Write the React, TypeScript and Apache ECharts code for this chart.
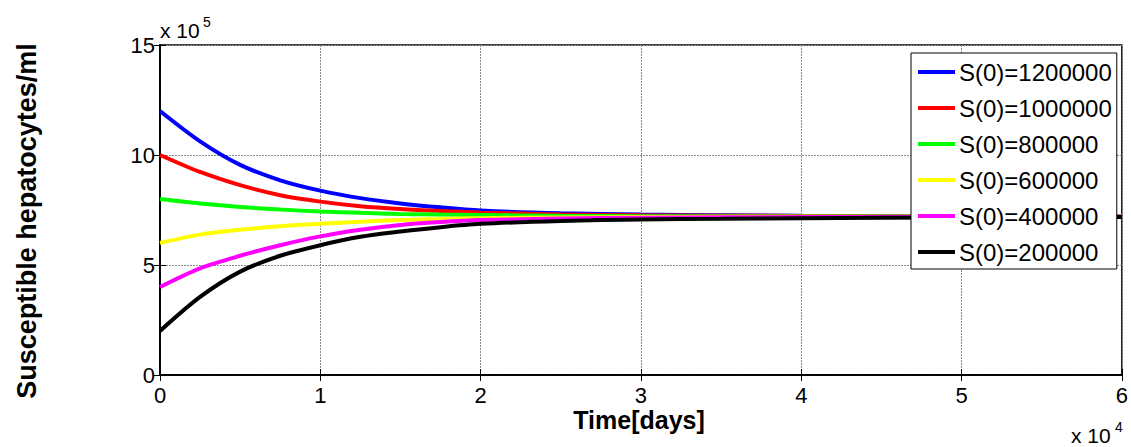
import React, { useEffect, useRef } from "react";
import * as echarts from "echarts";

// Time in units of 10^4 days, cell counts in units of 10^5 per ml
const times = [0, 0.25, 0.5, 0.75, 1, 1.25, 1.5, 1.75, 2, 2.5, 3, 3.5, 4, 5, 6];

const s1200000 = [12.0, 10.62, 9.55, 8.85, 8.38, 8.04, 7.8, 7.62, 7.48, 7.35, 7.29, 7.26, 7.24, 7.22, 7.21];
const s1000000 = [10.0, 9.23, 8.63, 8.17, 7.88, 7.67, 7.54, 7.45, 7.38, 7.3, 7.26, 7.24, 7.23, 7.21, 7.21];
const s800000 = [8.0, 7.8, 7.64, 7.52, 7.43, 7.37, 7.32, 7.29, 7.27, 7.24, 7.22, 7.21, 7.21, 7.2, 7.2];
const s600000 = [6.0, 6.38, 6.6, 6.76, 6.87, 6.97, 7.04, 7.09, 7.13, 7.16, 7.18, 7.19, 7.19, 7.2, 7.2];
const s400000 = [4.0, 4.85, 5.42, 5.9, 6.3, 6.6, 6.82, 6.95, 7.04, 7.11, 7.15, 7.17, 7.18, 7.19, 7.2];
const s200000 = [2.0, 3.55, 4.7, 5.42, 5.9, 6.28, 6.52, 6.72, 6.87, 7.0, 7.07, 7.1, 7.13, 7.16, 7.18];

const seriesNames = [
  "S(0)=1200000",
  "S(0)=1000000",
  "S(0)=800000",
  "S(0)=600000",
  "S(0)=400000",
  "S(0)=200000",
];
const seriesValues = [s1200000, s1000000, s800000, s600000, s400000, s200000];
const seriesColors = ["#0000ff", "#ff0000", "#00ff00", "#ffff00", "#ff00ff", "#000000"];

const xTicks = [0, 1, 2, 3, 4, 5, 6];
const yTicks = [0, 5, 10, 15];

const FONT = "'Liberation Sans', Arial, sans-serif";

export default function App() {
  const ref = useRef<HTMLDivElement>(null);

  useEffect(() => {
    document.body.style.margin = "0";
    if (!ref.current) return;
    const chart = echarts.init(ref.current, null, { renderer: "svg" });

    const gridLine = { show: true, lineStyle: { color: "#8a8a8a", width: 1, type: [2, 1] as any } };
    const tickStyle = { show: true, inside: true, length: 6, lineStyle: { color: "#000", width: 1 } };

    chart.setOption({
      animation: false,
      backgroundColor: "#fff",
      grid: {
        left: 160,
        top: 45,
        right: 4,
        bottom: 72,
        show: true,
        borderColor: "#000",
        borderWidth: 1.5,
        backgroundColor: "transparent",
      },
      xAxis: [
        {
          type: "value",
          min: xTicks[0],
          max: xTicks[xTicks.length - 1],
          interval: 1,
          axisLine: { show: true, lineStyle: { color: "#000", width: 1.5 } },
          axisTick: tickStyle,
          splitLine: gridLine,
          axisLabel: { color: "#000", fontSize: 22, fontFamily: FONT, margin: 9 },
        },
        {
          type: "value",
          position: "top",
          min: xTicks[0],
          max: xTicks[xTicks.length - 1],
          interval: 1,
          axisLine: { show: true, lineStyle: { color: "#000", width: 1.5 } },
          axisTick: tickStyle,
          splitLine: { show: false },
          axisLabel: { show: false },
        },
      ],
      yAxis: [
        {
          type: "value",
          min: yTicks[0],
          max: yTicks[yTicks.length - 1],
          interval: 5,
          axisLine: { show: true, lineStyle: { color: "#000", width: 1.5 } },
          axisTick: tickStyle,
          splitLine: gridLine,
          axisLabel: { color: "#000", fontSize: 22, fontFamily: FONT, margin: 5 },
        },
        {
          type: "value",
          position: "right",
          min: yTicks[0],
          max: yTicks[yTicks.length - 1],
          interval: 5,
          axisLine: { show: true, lineStyle: { color: "#000", width: 1.5 } },
          axisTick: tickStyle,
          splitLine: { show: false },
          axisLabel: { show: false },
        },
      ],
      legend: {
        orient: "vertical",
        left: 911,
        top: 53,
        z: 20,
        data: seriesNames,
        icon: "rect",
        backgroundColor: "#fff",
        borderColor: "#000",
        borderWidth: 1,
        borderRadius: 0,
        padding: [6, 5, 4, 7],
        itemWidth: 37,
        itemHeight: 4,
        itemGap: 10,
        textStyle: { color: "#000", fontSize: 24, fontFamily: FONT, lineHeight: 26, padding: [0, 0, 0, -1] },
      },
      graphic: [
        {
          type: "text",
          x: 27,
          y: 221,
          rotation: Math.PI / 2,
          style: {
            text: "Susceptible hepatocytes/ml",
            font: `bold 27px ${FONT}`,
            fill: "#000",
            textAlign: "center",
            textVerticalAlign: "middle",
          },
        },
        {
          type: "text",
          x: 639,
          y: 420,
          style: {
            text: "Time[days]",
            font: `bold 25px ${FONT}`,
            fill: "#000",
            textAlign: "center",
            textVerticalAlign: "middle",
          },
        },
        {
          type: "text",
          x: 160,
          y: 41,
          style: { text: "x 10", font: `21px ${FONT}`, fill: "#000", textVerticalAlign: "bottom" },
        },
        {
          type: "text",
          x: 203,
          y: 29,
          style: { text: "5", font: `14px ${FONT}`, fill: "#000", textVerticalAlign: "bottom" },
        },
        {
          type: "text",
          x: 1071,
          y: 446,
          style: { text: "x 10", font: `21px ${FONT}`, fill: "#000", textVerticalAlign: "bottom" },
        },
        {
          type: "text",
          x: 1115,
          y: 434,
          style: { text: "4", font: `14px ${FONT}`, fill: "#000", textVerticalAlign: "bottom" },
        },
      ],
      series: seriesNames.map((name, i) => ({
        name,
        type: "line",
        xAxisIndex: 0,
        yAxisIndex: 0,
        smooth: 0.3,
        symbol: "none",
        data: times.map((t, j) => [t, seriesValues[i][j]]),
        lineStyle: { color: seriesColors[i], width: 4 },
        itemStyle: { color: seriesColors[i] },
        z: 2,
      })),
    });

    return () => chart.dispose();
  }, []);

  return <div ref={ref} style={{ width: 1131, height: 447 }} />;
}
